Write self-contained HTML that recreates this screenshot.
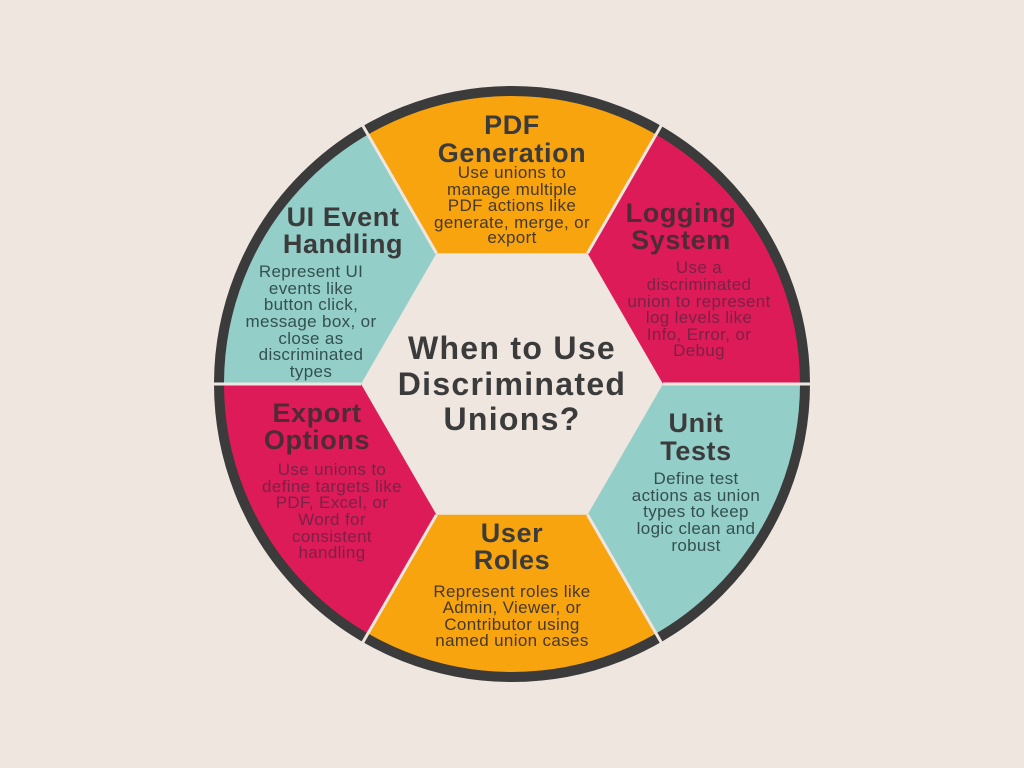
<!DOCTYPE html>
<html>
<head>
<meta charset="utf-8">
<style>
  html, body { margin:0; padding:0; background:#EEE6DF; }
  svg { display:block; }
  .t { font-family:"Liberation Sans", Arial, sans-serif; font-weight:bold; font-size:27px; letter-spacing:0.6px; text-anchor:middle; }
  .b { font-family:"Liberation Sans", Arial, sans-serif; font-size:17px; letter-spacing:0.35px; text-anchor:middle; }
  .c { font-family:"Liberation Sans", Arial, sans-serif; font-weight:bold; font-size:32px; letter-spacing:1.3px; text-anchor:middle; fill:#3b3b3b; }
</style>
</head>
<body>
<svg width="1024" height="768" viewBox="0 0 1024 768" xmlns="http://www.w3.org/2000/svg">
  <rect width="1024" height="768" fill="#EEE6DF"/>
  <path d="M436.5,253.2 L364.5,128.5 A295,295 0 0 1 659.5,128.5 L587.5,253.2 Z" fill="#F8A40F"/>
  <path d="M587.5,253.2 L659.5,128.5 A295,295 0 0 1 807,384 L663,384 Z" fill="#DD1B58"/>
  <path d="M663,384 L807,384 A295,295 0 0 1 659.5,639.5 L587.5,514.8 Z" fill="#93CEC8"/>
  <path d="M587.5,514.8 L659.5,639.5 A295,295 0 0 1 364.5,639.5 L436.5,514.8 Z" fill="#F8A40F"/>
  <path d="M436.5,514.8 L364.5,639.5 A295,295 0 0 1 217,384 L361,384 Z" fill="#DD1B58"/>
  <path d="M361,384 L217,384 A295,295 0 0 1 364.5,128.5 L436.5,253.2 Z" fill="#93CEC8"/>

  <circle cx="512" cy="384" r="293" fill="none" stroke="#3b3b3b" stroke-width="10"/>

  <g stroke="#EEE6DF" stroke-width="3">
    <line x1="663" y1="384" x2="815" y2="384"/>
    <line x1="361" y1="384" x2="209" y2="384"/>
    <line x1="587.5" y1="253.2" x2="664" y2="120.8"/>
    <line x1="436.5" y1="253.2" x2="360" y2="120.8"/>
    <line x1="587.5" y1="514.8" x2="664" y2="647.2"/>
    <line x1="436.5" y1="514.8" x2="360" y2="647.2"/>
  </g>

  <text class="c" x="512" y="359">When to Use</text>
  <text class="c" x="512" y="395">Discriminated</text>
  <text class="c" x="512" y="430">Unions?</text>

  <g fill="#3b3b3b">
    <text class="t" x="512" y="134">PDF</text>
    <text class="t" x="512" y="162">Generation</text>
  </g>
  <g fill="#45392a">
    <text class="b" x="512" y="178">Use unions to</text>
    <text class="b" x="512" y="195">manage multiple</text>
    <text class="b" x="512" y="211">PDF actions like</text>
    <text class="b" x="512" y="228">generate, merge, or</text>
    <text class="b" x="512" y="243">export</text>
  </g>

  <g fill="#3b3b3b">
    <text class="t" x="343" y="226">UI Event</text>
    <text class="t" x="343" y="253">Handling</text>
  </g>
  <g fill="#34504e">
    <text class="b" x="311" y="277">Represent UI</text>
    <text class="b" x="311" y="294">events like</text>
    <text class="b" x="311" y="310">button click,</text>
    <text class="b" x="311" y="327">message box, or</text>
    <text class="b" x="311" y="344">close as</text>
    <text class="b" x="311" y="360">discriminated</text>
    <text class="b" x="311" y="377">types</text>
  </g>

  <g fill="#4f2a37">
    <text class="t" x="681" y="222">Logging</text>
    <text class="t" x="681" y="249">System</text>
  </g>
  <g fill="#7a2246">
    <text class="b" x="699" y="273">Use a</text>
    <text class="b" x="699" y="290">discriminated</text>
    <text class="b" x="699" y="307">union to represent</text>
    <text class="b" x="699" y="323">log levels like</text>
    <text class="b" x="699" y="340">Info, Error, or</text>
    <text class="b" x="699" y="356">Debug</text>
  </g>

  <g fill="#4f2a37">
    <text class="t" x="317" y="422">Export</text>
    <text class="t" x="317" y="449">Options</text>
  </g>
  <g fill="#7a2246">
    <text class="b" x="332" y="475">Use unions to</text>
    <text class="b" x="332" y="492">define targets like</text>
    <text class="b" x="332" y="508">PDF, Excel, or</text>
    <text class="b" x="332" y="525">Word for</text>
    <text class="b" x="332" y="542">consistent</text>
    <text class="b" x="332" y="558">handling</text>
  </g>

  <g fill="#3b3b3b">
    <text class="t" x="512" y="542">User</text>
    <text class="t" x="512" y="569">Roles</text>
  </g>
  <g fill="#45392a">
    <text class="b" x="512" y="597">Represent roles like</text>
    <text class="b" x="512" y="613">Admin, Viewer, or</text>
    <text class="b" x="512" y="630">Contributor using</text>
    <text class="b" x="512" y="646">named union cases</text>
  </g>

  <g fill="#3b3b3b">
    <text class="t" x="696" y="432">Unit</text>
    <text class="t" x="696" y="460">Tests</text>
  </g>
  <g fill="#34504e">
    <text class="b" x="696" y="484">Define test</text>
    <text class="b" x="696" y="501">actions as union</text>
    <text class="b" x="696" y="517">types to keep</text>
    <text class="b" x="696" y="534">logic clean and</text>
    <text class="b" x="696" y="551">robust</text>
  </g>
</svg>
</body>
</html>
